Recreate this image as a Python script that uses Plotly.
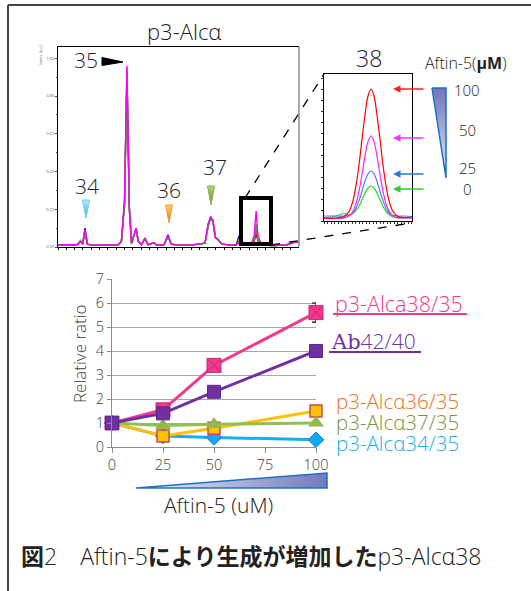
import plotly.graph_objects as go

W, H = 531, 591

def px(x):
    return x / W

def py(y):
    return 1 - y / H

# ---------------- data ----------------
# chromatogram (retention axis 0-100, intensity a.u.)
chrom_x = [0, 4, 8, 9.3, 10.2, 11.2, 12.2, 14, 18, 22, 25, 26.3, 27.6, 28.6, 29.6, 30.5, 31.5,
           32.4, 33.3, 34.6, 36.1, 37.3, 39.8, 41, 44, 45.6, 47, 50, 55, 61, 62.3, 63.3, 64.3,
           65.3, 66.4, 68, 72, 74, 75.1, 76.3, 80, 81.4, 82.2, 83.0, 84.5, 90, 95, 98, 100]
chrom_magenta = [0.012, 0.01, 0.012, 0.03, 0.015, 0.09, 0.015, 0.01, 0.01, 0.008, 0.012, 0.03, 0.25,
                 0.96, 0.22, 0.02, 0.07, 0.1, 0.03, 0.012, 0.045, 0.012, 0.022, 0.01, 0.012, 0.06,
                 0.015, 0.01, 0.01, 0.02, 0.12, 0.16, 0.14, 0.05, 0.04, 0.015, 0.01, 0.012, 0.02,
                 0.01, 0.01, 0.06, 0.19, 0.06, 0.01, 0.008, 0.012, 0.025, 0.028]
chrom_green = [0.012, 0.01, 0.012, 0.035, 0.015, 0.07, 0.015, 0.01, 0.01, 0.008, 0.012, 0.03, 0.24,
               0.95, 0.21, 0.02, 0.065, 0.09, 0.03, 0.012, 0.05, 0.012, 0.022, 0.01, 0.012, 0.05,
               0.015, 0.01, 0.01, 0.02, 0.11, 0.15, 0.13, 0.05, 0.04, 0.015, 0.01, 0.012, 0.02,
               0.01, 0.01, 0.04, 0.12, 0.04, 0.01, 0.008, 0.012, 0.025, 0.028]
chrom_red = [0.012, 0.01, 0.012, 0.03, 0.015, 0.075, 0.015, 0.01, 0.01, 0.008, 0.012, 0.03, 0.23,
             0.93, 0.2, 0.02, 0.065, 0.095, 0.03, 0.012, 0.045, 0.012, 0.022, 0.01, 0.012, 0.055,
             0.015, 0.01, 0.01, 0.02, 0.11, 0.155, 0.135, 0.05, 0.04, 0.015, 0.01, 0.012, 0.03,
             0.01, 0.01, 0.035, 0.09, 0.035, 0.01, 0.008, 0.012, 0.025, 0.028]
chrom_blue = [0.012, 0.01, 0.012, 0.03, 0.015, 0.1, 0.015, 0.01, 0.01, 0.008, 0.012, 0.03, 0.22,
              0.9, 0.2, 0.02, 0.07, 0.1, 0.03, 0.012, 0.045, 0.012, 0.022, 0.01, 0.012, 0.065,
              0.015, 0.01, 0.01, 0.02, 0.12, 0.16, 0.14, 0.05, 0.04, 0.015, 0.01, 0.012, 0.06,
              0.01, 0.01, 0.03, 0.07, 0.03, 0.01, 0.008, 0.012, 0.025, 0.028]
chrom_ticks = [0.0, 0.2, 0.4, 0.6, 0.8, 1.0]

# inset: peak 38 for each Aftin-5 dose
inset_x = [0, 12, 20, 25, 29, 32, 35, 38, 41, 44, 47, 50, 53, 56, 59, 62, 65, 69, 74, 80, 88]
inset_100 = [3, 3, 4.4, 9.5, 20.4, 35.3, 56, 81.7, 106, 125, 132, 125, 106, 81.7, 56, 35.3, 20.4, 9.5, 4.4, 3.5, 4]
inset_50 = [2.5, 2.5, 3.2, 4.9, 9.6, 17.1, 29.6, 46.5, 64.9, 79.4, 85, 79.4, 64.9, 46.5, 29.6, 17.1, 9.6, 4.9, 3.2, 3, 3]
inset_25 = [5, 5, 5, 5.6, 8, 12.9, 20.4, 29.8, 39.7, 47.2, 50, 47.2, 39.7, 29.8, 20.4, 12.9, 8, 5.6, 5, 5, 4.5]
inset_0 = [3, 5, 7.5, 6, 7.5, 10.5, 14.8, 21.2, 28, 33, 35, 33, 28, 21.2, 14.8, 9.7, 6.4, 4.1, 3.2, 3, 3]
dose_labels = ["100", "50", "25", "0"]

# line chart
dose = [0, 25, 50, 100]
dose_ticks = [0, 25, 50, 75, 100]
r38 = [1, 1.55, 3.4, 5.6]
r38_err = [0, 0, 0, 0.4]
ab42 = [1, 1.4, 2.3, 4.0]
r36 = [1, 0.46, 0.78, 1.5]
r37 = [1, 0.9, 0.95, 1.0]
r34 = [1, 0.46, 0.4, 0.3]
series_names = ["p3-Alca38/35", "<span style='font-family:DejaVu Serif'>Ab</span>42/40",
                "p3-Alcα36/35", "p3-Alcα37/35", "p3-Alcα34/35"]

FONT = "Open Sans, Noto Sans, sans-serif"

fig = go.Figure()

# ---------- chromatogram ----------
for ys, col in [(chrom_blue, "#1a1a9a"), (chrom_red, "#ff1a1a"), (chrom_green, "#10d010"), (chrom_magenta, "#ff00ff")]:
    fig.add_trace(go.Scatter(x=chrom_x, y=ys, mode="lines", line=dict(color=col, width=1.4),
                             xaxis="x", yaxis="y", hoverinfo="skip"))

# ---------- inset ----------
for ys, col in [(inset_0, "#22dd22"), (inset_25, "#4d7fff"), (inset_50, "#ff22ff"), (inset_100, "#ff0000")]:
    fig.add_trace(go.Scatter(x=inset_x, y=ys, mode="lines", line=dict(color=col, width=1.2, shape="spline"),
                             xaxis="x2", yaxis="y2", hoverinfo="skip"))

# ---------- line chart ----------
fig.add_trace(go.Scatter(x=dose, y=r34, mode="lines+markers", cliponaxis=False,
                         line=dict(color="#10b0f0", width=3),
                         marker=dict(symbol="diamond", size=12, color="#10a8f0", line=dict(color="#1a80c8", width=1)),
                         xaxis="x3", yaxis="y3"))
fig.add_trace(go.Scatter(x=dose, y=r36, mode="lines+markers", cliponaxis=False,
                         line=dict(color="#ffc000", width=3),
                         marker=dict(symbol="square", size=12, color="#ffc000", line=dict(color="#c0504d", width=1.5)),
                         xaxis="x3", yaxis="y3"))
fig.add_trace(go.Scatter(x=dose, y=r37, mode="lines+markers", cliponaxis=False,
                         line=dict(color="#92c050", width=3),
                         marker=dict(symbol="triangle-up", size=14, color="#92b850"),
                         xaxis="x3", yaxis="y3"))
fig.add_trace(go.Scatter(x=dose, y=r38, mode="lines+markers", cliponaxis=False,
                         line=dict(color="#f4388a", width=3),
                         marker=dict(symbol="square-x", size=14, color="#f4388a", line=dict(color="#c8287a", width=1)),
                         error_y=dict(type="data", array=r38_err, color="black", thickness=1.2, width=4),
                         xaxis="x3", yaxis="y3"))
fig.add_trace(go.Scatter(x=dose, y=ab42, mode="lines+markers", cliponaxis=False,
                         line=dict(color="#7030a0", width=3),
                         marker=dict(symbol="square", size=13, color="#7030a0", line=dict(color="#5c2a8c", width=1)),
                         xaxis="x3", yaxis="y3"))

# ---------- decorative gradient triangles (pixel overlay axis) ----------
def tri(xs, ys, c0, c1, gtype, start, stop, outline, lw=1.2):
    fig.add_trace(go.Scatter(x=xs, y=ys, mode="lines", fill="toself",
                             line=dict(color=outline, width=lw),
                             fillgradient=dict(type=gtype, colorscale=[[0, c0], [1, c1]], start=start, stop=stop),
                             xaxis="x4", yaxis="y4", hoverinfo="skip"))

# dose wedge in inset legend (vertical)
tri([432, 446, 446, 432], [88, 88, 178, 88], "#6f74b8", "#e4ecfb", "vertical", 88, 178, "#1f6fc5", 1.5)
# dose wedge under line chart (horizontal)
tri([136, 327, 327, 136], [488, 473, 488, 488], "#eef3fd", "#7378bb", "horizontal", 136, 327, "#1f6fc5", 1.5)
# peak markers
tri([82.5, 89.5, 86, 82.5], [200, 200, 218, 200], "#bdefff", "#2aa8e0", "vertical", 200, 218, "#6ccaf0", 1)
tri([165.5, 172.5, 169, 165.5], [205, 205, 223, 205], "#ffd27a", "#e87800", "vertical", 205, 223, "#f0a030", 1)
tri([207.5, 214.5, 211, 207.5], [186, 186, 205, 186], "#b5d67a", "#5a8a25", "vertical", 186, 205, "#8ab050", 1)

# ---------- layout ----------
lay = dict(
    template="none",
    width=W, height=H, margin=dict(l=0, r=0, t=0, b=0, pad=0), autosize=False,
    paper_bgcolor="white", plot_bgcolor="rgba(0,0,0,0)", showlegend=False,
    font=dict(family=FONT, color="#333"),
    xaxis=dict(domain=[px(58), px(299)], range=[0, 100], anchor="y", showline=True, linecolor="black",
               linewidth=1, mirror=True, ticks="outside", ticklen=2, tickcolor="black", dtick=3.45,
               tick0=0, showticklabels=False, showgrid=False, zeroline=False, automargin=False),
    yaxis=dict(domain=[py(247), py(47)], range=[0, 1.06], anchor="x", showline=True, linecolor="black",
               linewidth=1, ticks="outside", ticklen=2, tickcolor="#444", tickvals=chrom_ticks,
               tickformat=".2f", tickfont=dict(size=4, color="#666"), showgrid=False, zeroline=False,
               automargin=False,
               minor=dict(ticks="outside", ticklen=1.5, dtick=0.1, tickcolor="#444")),
    xaxis2=dict(domain=[px(324), px(412)], range=[0, 88], anchor="y2", showline=True, linecolor="black",
                mirror=True, ticks="outside", ticklen=2, dtick=3.5, tickcolor="#333",
                showticklabels=False, showgrid=False, zeroline=False, automargin=False),
    yaxis2=dict(domain=[py(221), py(74)], range=[0, 147], anchor="x2", showline=True, linecolor="black",
                mirror=True, ticks="outside", ticklen=2, dtick=11, tickcolor="#333",
                showticklabels=False, showgrid=False, zeroline=False, automargin=False),
    xaxis3=dict(domain=[px(112), px(316)], range=[0, 100], anchor="y3", tickvals=dose_ticks,
                showline=True, linecolor="#8c8c8c", ticks="outside", ticklen=5, tickcolor="#8c8c8c",
                tickfont=dict(size=14.5, color="#404040", weight=300), showgrid=False, zeroline=False,
                automargin=False),
    yaxis3=dict(domain=[py(447), py(279)], range=[0, 7], dtick=1, anchor="x3", showline=True,
                linecolor="#8c8c8c", ticks="outside", ticklen=4, tickcolor="#8c8c8c",
                tickfont=dict(size=14.5, color="#404040", weight=300), showgrid=True, gridcolor="#a6a6a6",
                gridwidth=1, zeroline=False, automargin=False),
    xaxis4=dict(domain=[0, 1], range=[0, W], anchor="y4", visible=False, fixedrange=True, automargin=False),
    yaxis4=dict(domain=[0, 1], range=[H, 0], anchor="x4", visible=False, fixedrange=True, automargin=False),
)
fig.update_layout(**lay)

shapes = []
def line(x0, y0, x1, y1, color="black", width=1, dash="solid"):
    shapes.append(dict(type="line", xref="paper", yref="paper", x0=px(x0), y0=py(y0), x1=px(x1), y1=py(y1),
                       line=dict(color=color, width=width, dash=dash)))

# outer frame (top and left)
line(8, 5, 531, 5, "#444", 2)
line(8, 5, 8, 591, "#444", 2)
# chromatogram right border (grey)
line(299, 47, 299, 247, "#8c8c8c", 1.5)
# zoom box
shapes.append(dict(type="rect", xref="paper", yref="paper", x0=px(241), y0=py(198), x1=px(271), y1=py(244),
                   line=dict(color="black", width=4)))
# dashed connectors
line(245, 198, 324, 74, "black", 1.3, "dash")
line(271, 245, 405, 224, "black", 1.3, "dash")
# black flag for peak 35
shapes.append(dict(type="path", xref="paper", yref="paper",
                   path=f"M {px(102)},{py(57.5)} L {px(123)},{py(62)} L {px(102)},{py(65.5)} Z",
                   fillcolor="black", line=dict(color="black", width=1)))
# underlines of legend labels
line(333, 314, 467, 314, "#f4388a", 2)
line(329, 352, 421, 352, "#7030a0", 2)
fig.update_layout(shapes=shapes)

ann = []
def text(x, y, s, size, color="#222", xanchor="center", family=FONT, angle=0, weight=300):
    ann.append(dict(x=px(x), y=py(y), xref="paper", yref="paper", text=s, showarrow=False,
                    xanchor=xanchor, yanchor="middle", textangle=angle,
                    font=dict(size=size, color=color, family=family, weight=weight)))

text(184, 31, "p3-Alcα", 22)
text(86, 60, "35", 21)
text(87, 186, "34", 21)
text(169, 190, "36", 21)
text(215, 167, "37", 21)
text(40, 55, "Intens. [a.u.]", 3.5, "#666", angle=-90, weight=400)
text(369, 58, "38", 23)
text(465, 63, "Aftin-5(<b>μM</b>)", 16)
for lab, yy in zip(dose_labels, [90, 130, 168, 189]):
    text(467, yy, lab, 15)

# arrows in inset
for yy, col in [(89, "#ff2020"), (138, "#ff33ff"), (174, "#2a7ad5"), (189, "#33cc33")]:
    ann.append(dict(x=px(393), y=py(yy), xref="paper", yref="paper", text="", showarrow=True,
                    ax=32, ay=0, axref="pixel", ayref="pixel", arrowhead=2, arrowsize=1,
                    arrowwidth=1.5, arrowcolor=col))

# line chart labels
text(79, 354, "Relative ratio", 17, "#404040", angle=-90)
label_pos = [(333, 304, "#f4388a", 21.5), (329, 341, "#7030a0", 21), (334, 401, "#e8731a", 20.5),
             (334, 422, "#77933c", 20.5), (334, 443, "#1aaef0", 20.5)]
for name, (xx, yy, col, sz) in zip(series_names, label_pos):
    text(xx, yy, name, sz, col, xanchor="left")
text(218, 505, "Aftin-5 (uM)", 21, "#222")

# caption
text(19, 556, "<b>図</b>2　Aftin-5<b>により生成が増加した</b>p3-Alcα38", 23, "#222",
     xanchor="left", family="Open Sans, Noto Sans CJK JP, sans-serif")

fig.update_layout(annotations=ann)

fig.write_html("out.html", config={"displayModeBar": False},
               post_script="document.body.style.margin='0';document.body.style.overflow='hidden';")
